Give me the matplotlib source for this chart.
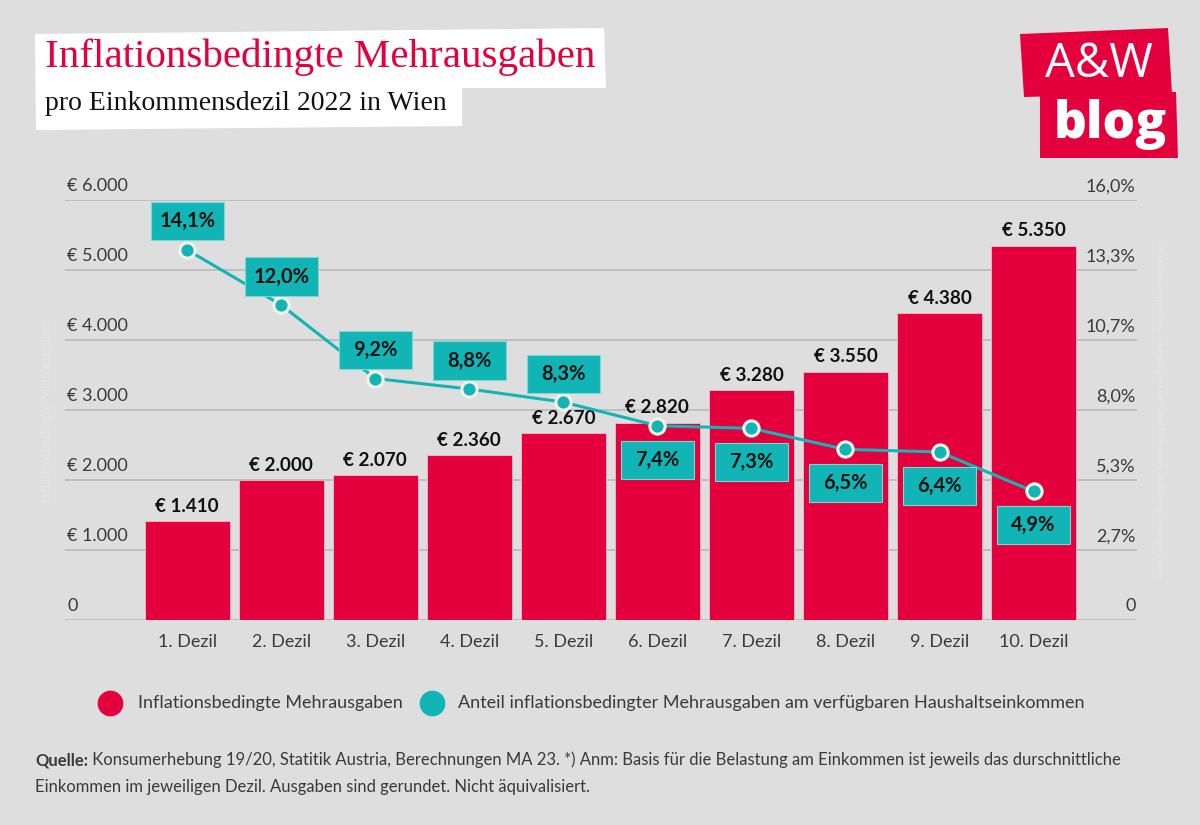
import matplotlib
matplotlib.use("Agg")
import matplotlib.pyplot as plt
from matplotlib.patches import Polygon
from matplotlib.lines import Line2D
from matplotlib.path import Path
import numpy as np

# ---- data ----
categories = ["1. Dezil", "2. Dezil", "3. Dezil", "4. Dezil", "5. Dezil",
              "6. Dezil", "7. Dezil", "8. Dezil", "9. Dezil", "10. Dezil"]
mehrausgaben = [1410, 2000, 2070, 2360, 2670, 2820, 3280, 3550, 4380, 5350]
anteil = [14.1, 12.0, 9.2, 8.8, 8.3, 7.4, 7.3, 6.5, 6.4, 4.9]
left_ticks = [0, 1000, 2000, 3000, 4000, 5000, 6000]
left_ticklabels = ["0", "€ 1.000", "€ 2.000", "€ 3.000", "€ 4.000", "€ 5.000", "€ 6.000"]
right_ticks = [0, 16/6, 32/6, 8, 64/6, 80/6, 16]
right_ticklabels = ["0", "2,7%", "5,3%", "8,0%", "10,7%", "13,3%", "16,0%"]
legend_labels = ["Inflationsbedingte Mehrausgaben",
                 "Anteil inflationsbedingter Mehrausgaben am verfügbaren Haushaltseinkommen"]

BG = "#dedede"
RED = "#e4003c"
TEAL = "#12b5b5"
GRID = "#bcbcbc"
TXT = "#3a3a3a"

plt.rcParams['font.family'] = ['Lato', 'DejaVu Sans']

W, H = 1200, 825
fig = plt.figure(figsize=(12, 8.25), dpi=100, facecolor=BG)

def px(x, y):
    return (x / W, 1 - y / H)

def fixed_box(x0, y0, w, h, mutation_size):
    half = 36.5 * fig.dpi / 100.0
    pady = 0.45 * mutation_size
    cx = x0 + w / 2
    xa, xb = cx - half, cx + half
    ya, yb = y0 - pady, y0 + h + pady
    return Path([(xa, ya), (xb, ya), (xb, yb), (xa, yb), (xa, ya)], closed=True)

ax = fig.add_axes([65 / W, 1 - 620 / H, (1137 - 65) / W, (620 - 200) / H])
ax.set_facecolor(BG)
for s in ax.spines.values():
    s.set_visible(False)

x = np.arange(len(categories))
ax.set_xlim(-1.30, 9.0 + 1.10)
ax.set_ylim(0, 6000)

for v in left_ticks:
    ax.axhline(v, color=GRID, lw=1.3, zorder=0)

ax.bar(x, mehrausgaben, width=0.9, color=RED, edgecolor='#f0c0cc', linewidth=0.6, zorder=2)
for xi, v in zip(x, mehrausgaben):
    ax.annotate("€ " + f"{v:,}".replace(",", "."), (xi, v), xytext=(0, 4.5),
                textcoords='offset points', ha='center', va='bottom',
                fontsize=13.6, fontweight='bold', color='#111111', zorder=5)

ax.set_yticks([])
ax.set_xticks(x)
ax.set_xticklabels(categories, fontsize=13, color=TXT)
ax.tick_params(axis='x', length=0, pad=10)

for v, lab in zip(left_ticks, left_ticklabels):
    ax.annotate(lab, (0, v), xycoords=('axes fraction', 'data'), xytext=(1.5, 4),
                textcoords='offset points', ha='left', va='bottom', fontsize=13, color=TXT)

ax2 = ax.twinx()
for s in ax2.spines.values():
    s.set_visible(False)
ax2.set_ylim(0, 16)
ax2.set_yticks([])
for v, lab in zip(right_ticks, right_ticklabels):
    ax2.annotate(lab, (1, v), xycoords=('axes fraction', 'data'), xytext=(-1, 4),
                 textcoords='offset points', ha='right', va='bottom', fontsize=13, color=TXT)

ax2.plot(x, anteil, color=TEAL, lw=2.2, zorder=3, marker='o', markersize=11,
         markerfacecolor=TEAL, markeredgecolor='#f4f2e6', markeredgewidth=2.2)
for i, (xi, v) in enumerate(zip(x, anteil)):
    above = i < 5
    ax2.annotate(f"{v:.1f}%".replace(".", ","), (xi, v),
                 xytext=(0, 20.5 if above else -24.5), textcoords='offset points',
                 ha='center', va='center', fontsize=14.5, fontweight='bold', color='#111111',
                 bbox=dict(boxstyle=fixed_box, fc=TEAL, ec='#7fd6d0', lw=0.8),
                 zorder=6)

# faint axis titles
fig.text(47 / W, 1 - 410 / H, "Inflationsbedingte Mehrausgaben", rotation=90,
         ha='center', va='center', fontsize=9, color='#e6e6e6')
fig.text(1162 / W, 1 - 410 / H,
         "Anteil inflationsbedingter Mehrausgaben am verfügbaren Haushaltseinkommen",
         rotation=90, ha='center', va='center', fontsize=7, color='#e6e6e6')

# title boxes
title_poly = [px(35, 34), px(604, 28), px(606, 88), px(462, 88), px(462, 126), px(36, 130)]
fig.add_artist(Polygon(title_poly, closed=True, transform=fig.transFigure,
                       fc='white', ec='none', zorder=1))
fig.text(*px(45, 57), "Inflationsbedingte Mehrausgaben", ha='left', va='center',
         fontsize=29.5, color=RED, family=['Liberation Serif', 'DejaVu Serif'], zorder=2)
fig.text(*px(45, 103), "pro Einkommensdezil 2022 in Wien", ha='left', va='center',
         fontsize=20, color='#111111', family=['Liberation Serif', 'DejaVu Serif'], zorder=2)

# logo
fig.add_artist(Polygon([px(1020, 34), px(1168, 28), px(1172, 93), px(1024, 97)], closed=True,
                       transform=fig.transFigure, fc=RED, ec='none'))
fig.add_artist(Polygon([px(1040, 93), px(1176, 92), px(1178, 158), px(1040, 158)], closed=True,
                       transform=fig.transFigure, fc=RED, ec='none'))
fig.text(*px(1099, 64), "A&W", ha='center', va='center', fontsize=34, color='white',
         fontweight='normal', family=['Open Sans', 'DejaVu Sans'])
fig.text(*px(1110, 124), "blog", ha='center', va='center', fontsize=37, color='white',
         fontweight='heavy', family=['Open Sans', 'DejaVu Sans'])

# legend
legend_pos = [(110, 138), (432, 458)]
for (cx, tx), col, lab in zip(legend_pos, [RED, TEAL], legend_labels):
    fig.add_artist(Line2D([cx / W], [1 - 703 / H], transform=fig.transFigure, marker='o',
                          ls='', markersize=17.5, color=col))
    fig.text(*px(tx, 703), lab, ha='left', va='center', fontsize=13, color=TXT)

# footer
q = fig.text(*px(35, 760), "Quelle:", ha='left', va='center', fontsize=12,
             fontweight='bold', color=TXT)
ax.annotate(" Konsumerhebung 19/20, Statitik Austria, Berechnungen MA 23. *) Anm: Basis für die "
            "Belastung am Einkommen ist jeweils das durschnittliche",
            xy=(1, 0.5), xycoords=q, ha='left', va='center', fontsize=12, color=TXT,
            annotation_clip=False)
fig.text(*px(35, 787), "Einkommen im jeweiligen Dezil. Ausgaben sind gerundet. Nicht äquivalisiert.",
         ha='left', va='center', fontsize=12, color=TXT)

fig.savefig("out.png", dpi=100, facecolor=BG)
